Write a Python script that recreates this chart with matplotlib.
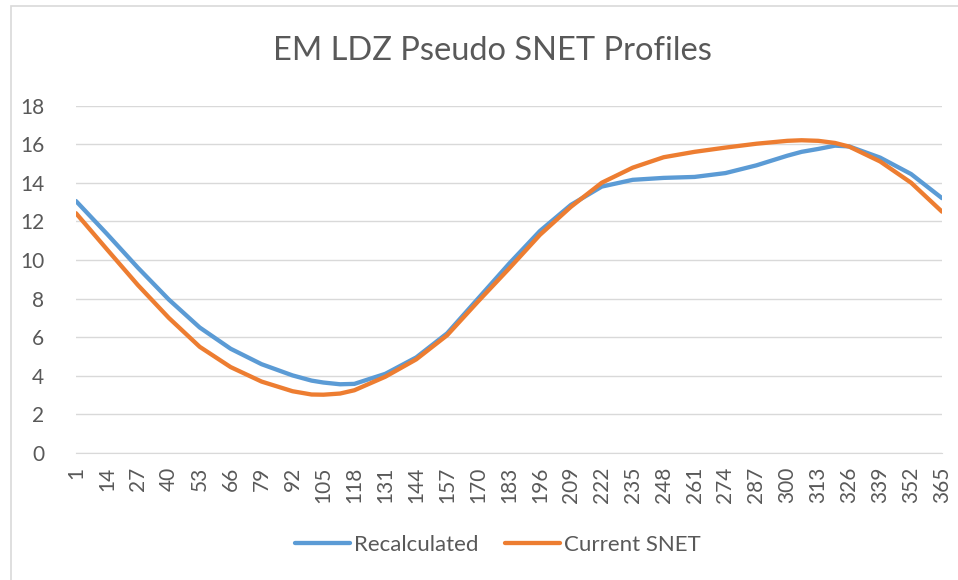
import matplotlib.pyplot as plt
from matplotlib.patches import Rectangle

plt.rcParams['font.family'] = ['Lato', 'DejaVu Sans']

# values (day of year)
days = [1, 14, 27, 40, 53, 66, 79, 92, 100, 105, 112, 118, 131, 144, 157, 170,
        183, 196, 209, 222, 235, 248, 261, 274, 287, 300, 306, 313, 320, 326,
        339, 352, 365]
recalculated = [13.05, 11.35, 9.6, 7.95, 6.5, 5.4, 4.6, 4.02, 3.75, 3.65, 3.56,
                3.58, 4.1, 4.95, 6.2, 8.0, 9.8, 11.5, 12.85, 13.8, 14.15, 14.25,
                14.3, 14.5, 14.9, 15.4, 15.6, 15.75, 15.92, 15.88, 15.3, 14.45, 13.2]
current_snet = [12.42, 10.55, 8.7, 7.0, 5.5, 4.45, 3.7, 3.2, 3.03, 3.02, 3.08,
                3.25, 3.95, 4.85, 6.1, 7.85, 9.55, 11.3, 12.75, 14.0, 14.78, 15.32,
                15.6, 15.82, 16.02, 16.17, 16.2, 16.17, 16.06, 15.87, 15.1, 14.0, 12.5]
tick_days = list(range(1, 366, 13))

text_col = "#595959"
grid_col = "#D9D9D9"

fig = plt.figure(figsize=(9.58, 5.8), dpi=100)
fig.patches.append(Rectangle((11 / 958, -0.1), 1.1, (574 + 58) / 580,
                             transform=fig.transFigure, facecolor="none",
                             edgecolor=grid_col, lw=1.2))

ax = fig.add_axes([76 / 958, 127 / 580, 866 / 958, 347.5 / 580])
ax.plot(days, recalculated, color="#5B9BD5", lw=3.1, label="Recalculated",
        solid_capstyle="round")
ax.plot(days, current_snet, color="#ED7D31", lw=3.1, label="Current SNET",
        solid_capstyle="round")

ax.set_xlim(1, 365)
ax.set_ylim(0, 18)
ax.set_yticks(range(0, 19, 2))
ax.set_xticks(tick_days)
ax.set_xticklabels([str(d) for d in tick_days], rotation=90)
ax.grid(axis="y", color=grid_col, lw=1)
ax.set_axisbelow(True)
for s in ["top", "right", "left"]:
    ax.spines[s].set_visible(False)
ax.spines["bottom"].set_color(grid_col)
ax.tick_params(axis="both", length=0, labelsize=15, colors=text_col)
ax.tick_params(axis="y", pad=23)
ax.tick_params(axis="x", pad=10)

fig.text(492 / 958, 1 - 51 / 580, "EM LDZ Pseudo SNET Profiles", ha="center",
         va="center", fontsize=23.5, color=text_col)

fig.legend(loc="center", bbox_to_anchor=(498 / 958, 1 - 545 / 580), ncol=2,
           frameon=False, fontsize=16, labelcolor=text_col,
           handlelength=2.45, handletextpad=0.2, columnspacing=1.2)

fig.savefig("out.png", dpi=100)
